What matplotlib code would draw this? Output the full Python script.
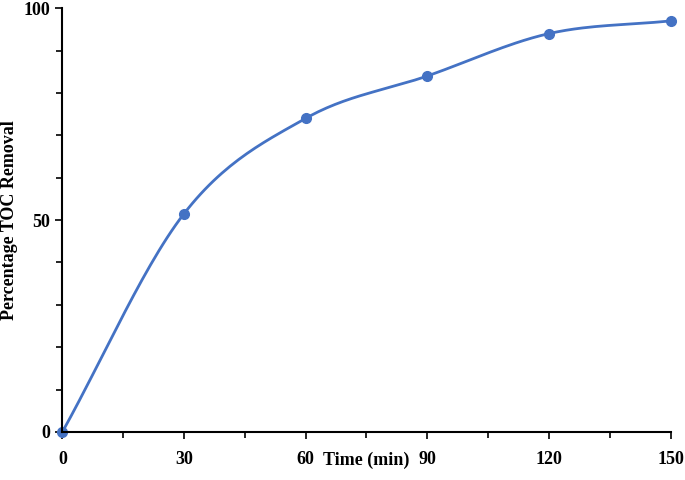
import matplotlib
matplotlib.use("Agg")
import matplotlib.pyplot as plt
import numpy as np
from matplotlib.ticker import MultipleLocator

time_min = [0, 30, 60, 90, 120, 150]
toc_removal = [0, 51.5, 74, 84, 94, 97]

BLUE = "#4472C4"


def smooth(x, y, n=30):
    # Catmull-Rom spline, similar to Excel's smoothed line
    x = np.asarray(x, float)
    y = np.asarray(y, float)
    px = np.concatenate([[2 * x[0] - x[1]], x, [2 * x[-1] - x[-2]]])
    py = np.concatenate([[2 * y[0] - y[1]], y, [2 * y[-1] - y[-2]]])
    xs, ys = [], []
    t = np.linspace(0, 1, n)
    for i in range(1, len(px) - 2):
        for p, out in ((px, xs), (py, ys)):
            p0, p1, p2, p3 = p[i - 1], p[i], p[i + 1], p[i + 2]
            out.extend(0.5 * (2 * p1 + (-p0 + p2) * t
                              + (2 * p0 - 5 * p1 + 4 * p2 - p3) * t ** 2
                              + (-p0 + 3 * p1 - 3 * p2 + p3) * t ** 3))
    return xs, ys


plt.rcParams["font.family"] = "Liberation Serif"
plt.rcParams["font.weight"] = "bold"

fig = plt.figure(figsize=(6.85, 4.80), dpi=100)
ax = fig.add_axes([0.091, 0.1, 0.888, 0.883])

sx, sy = smooth(time_min, toc_removal)
ax.plot(sx, sy, color=BLUE, lw=2, clip_on=False)
ax.plot(time_min, toc_removal, "o", color=BLUE, ms=7, clip_on=False)

ax.set_xlim(0, 150)
ax.set_ylim(0, 100)
ax.xaxis.set_major_locator(MultipleLocator(30))
ax.xaxis.set_minor_locator(MultipleLocator(15))
ax.yaxis.set_major_locator(MultipleLocator(50))
ax.yaxis.set_minor_locator(MultipleLocator(10))
ax.tick_params(which="both", direction="out", width=1.2, labelsize=13)
ax.tick_params(which="major", length=5)
ax.tick_params(which="minor", length=4)
ax.tick_params(axis="x", which="major", pad=9)
for s in ("top", "right"):
    ax.spines[s].set_visible(False)
for s in ("left", "bottom"):
    ax.spines[s].set_linewidth(1.5)

ax.set_xlabel("Time (min)", fontsize=13, fontweight="bold", labelpad=-12)
ax.set_ylabel("Percentage TOC Removal", fontsize=13, fontweight="bold")

fig.savefig("out.png", dpi=100)
